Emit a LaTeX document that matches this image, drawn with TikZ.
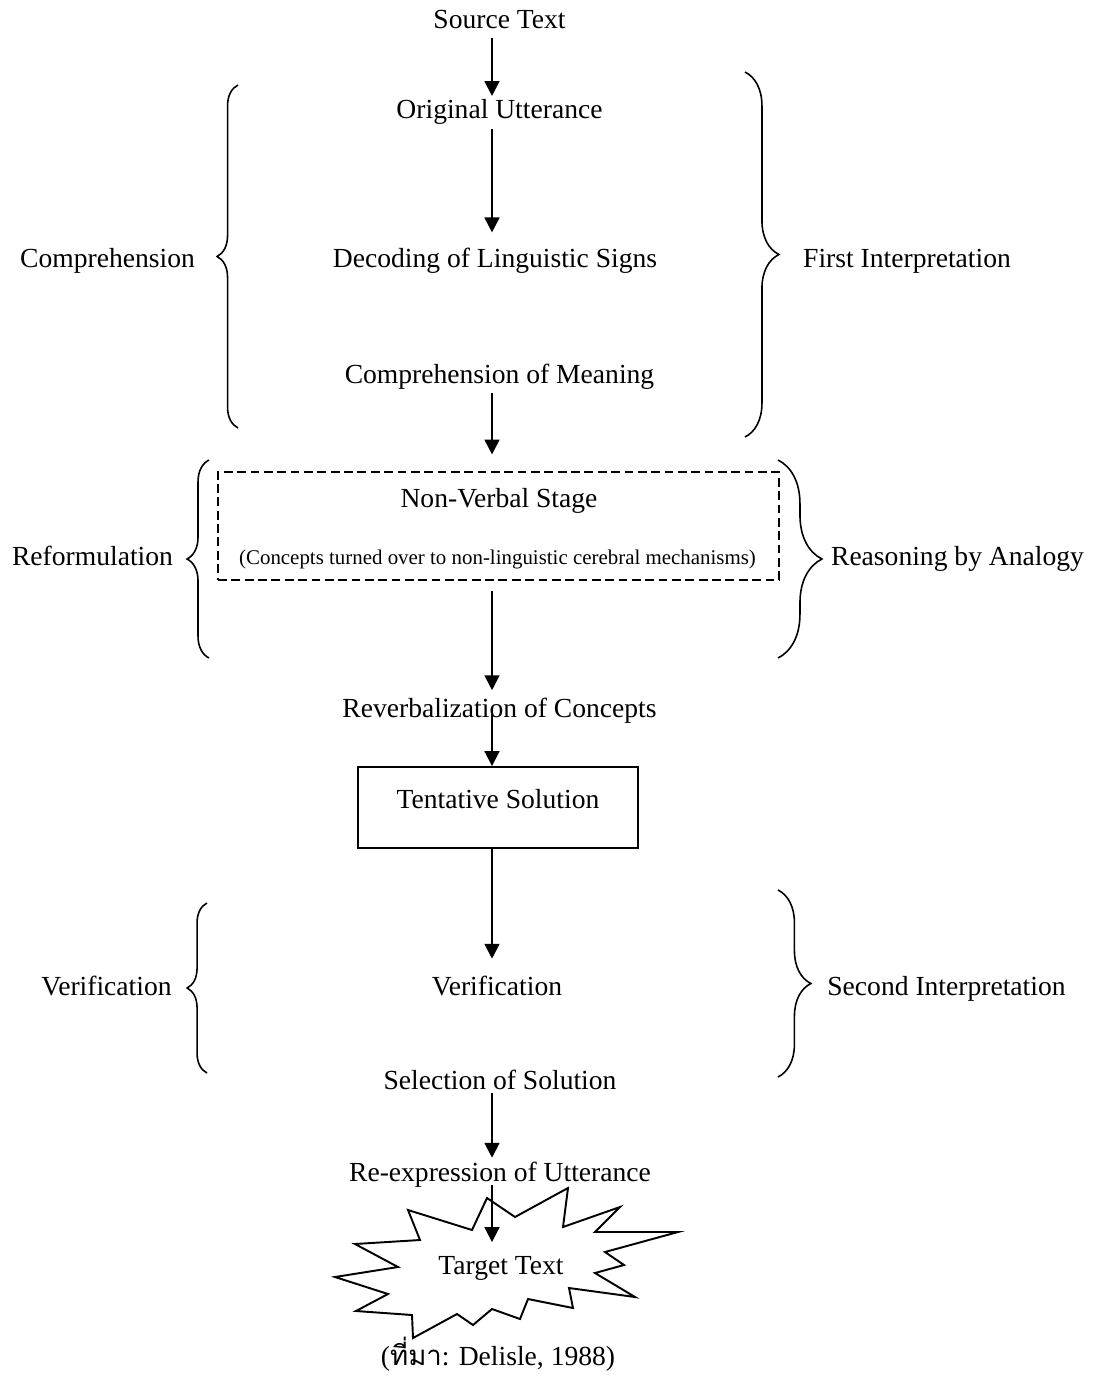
\documentclass[tikz,border=0pt]{standalone}
\usepackage{fontspec}
\setmainfont{Liberation Serif}
\newfontfamily\thaifont[Script=Thai]{Loma}
\usetikzlibrary{arrows.meta,decorations.pathreplacing}

\begin{document}
\begin{tikzpicture}[
        x=0.02cm, y=-0.02cm,
        every node/.style={font=\fontsize{15.7}{19}\selectfont, inner sep=2pt},
        lbl/.style={anchor=base},
        flow/.style={-{Triangle[width=8.5pt,length=8.5pt]}, line width=1.1pt},
        curly/.style={decorate, decoration={brace, amplitude=#1}, line width=0.9pt},
        dashbox/.style={draw, line width=0.8pt, dash pattern=on 5pt off 2.6pt},
        solidbox/.style={draw, line width=1.1pt},
    ]
    \useasboundingbox (0,0) rectangle (1097,1378);
    \coordinate (spine) at (492,0);
    % main column
    \node[lbl] (src) at (499.5,29) {Source Text};
    \node[lbl] (orig) at (499.5,119) {Original Utterance};
    \node[lbl] (dec) at (495,268) {Decoding of Linguistic Signs};
    \node[lbl] (com) at (499.5,383) {Comprehension of Meaning};
    \node[dashbox, minimum width=11.22cm, minimum height=2.16cm] (nvs) at (498.5,526) {};
    \node[lbl] (nvstitle) at (499,507) {Non-Verbal Stage};
    \node[lbl, font=\fontsize{11.9}{14}\selectfont] (nvsnote) at (497.5,564)
        {(Concepts turned over to non-linguistic cerebral mechanisms)};
    \node[lbl] (reverb) at (499.5,717) {Reverbalization of Concepts};
    \node[solidbox, minimum width=5.6cm, minimum height=1.62cm,
        text height=10.5pt, text depth=9.5pt] (tent) at (498,807.5) {Tentative Solution};
    \node[lbl] (ver) at (497,995) {Verification};
    \node[lbl] (sel) at (500,1089) {Selection of Solution};
    \node[lbl] (reexp) at (500,1181) {Re-expression of Utterance};
    % star round the target text
    \draw[line width=1.1pt, line join=miter]
        (487,1198) -- (515,1217) -- (568,1188) -- (563,1227) -- (620,1207)
        -- (595,1232) -- (678,1232) -- (605,1252) -- (624,1265) -- (595,1273)
        -- (635,1297) -- (569,1288) -- (573,1308) -- (528,1299) -- (520,1319)
        -- (492,1309) -- (473,1325) -- (457,1314) -- (413,1338) -- (412,1315)
        -- (356,1311) -- (388,1294) -- (335,1277) -- (398,1267) -- (355,1244)
        -- (420,1240) -- (408,1210) -- (472,1230) -- cycle;
    \node[lbl] (tgt) at (501,1274) {Target Text};
    \node[lbl] (cap) at (498,1365) {({\thaifont ที่มา}: Delisle, 1988)};
    % arrows
    \draw[flow, shorten <=2.5pt] (src.south -| spine) -- (orig.north -| spine);
    \draw[flow, shorten >=7pt] (orig.south -| spine) -- (dec.north -| spine);
    \draw[flow, shorten >=9.6pt] (com.south -| spine) -- (nvs.north -| spine);
    \draw[flow, shorten <=5.7pt, shorten >=2pt] (nvs.south -| spine) -- (reverb.north -| spine);
    \draw[flow] (reverb.center -| spine) -- (tent.north -| spine);
    \draw[flow, shorten >=7.4pt] (tent.south -| spine) -- (ver.north -| spine);
    \draw[flow] (sel.south -| spine) -- (reexp.north -| spine);
    \draw[flow, shorten <=-3pt, shorten >=5.7pt] (reexp.south -| spine) -- (tgt.north -| spine);
    % braces and their labels
    \draw[curly=11.9pt] (238,428) -- (238,85);
    \draw[curly=19.3pt] (745,72) -- (745,437);
    \draw[curly=12.5pt] (209,658) -- (209,460);
    \draw[curly=25pt] (778,460) -- (778,658);
    \draw[curly=11.3pt] (207,1073) -- (207,903);
    \draw[curly=18.7pt] (778,890) -- (778,1077);
    \node[lbl] (phase1) at (107.5,268) {Comprehension};
    \node[lbl] (interp1) at (907,268) {First Interpretation};
    \node[lbl] (phase2) at (92.5,565) {Reformulation};
    \node[lbl] (analogy) at (957.5,565) {Reasoning by Analogy};
    \node[lbl] (phase3) at (106.5,995) {Verification};
    \node[lbl] (interp2) at (946.5,995) {Second Interpretation};
\end{tikzpicture}
\end{document}
